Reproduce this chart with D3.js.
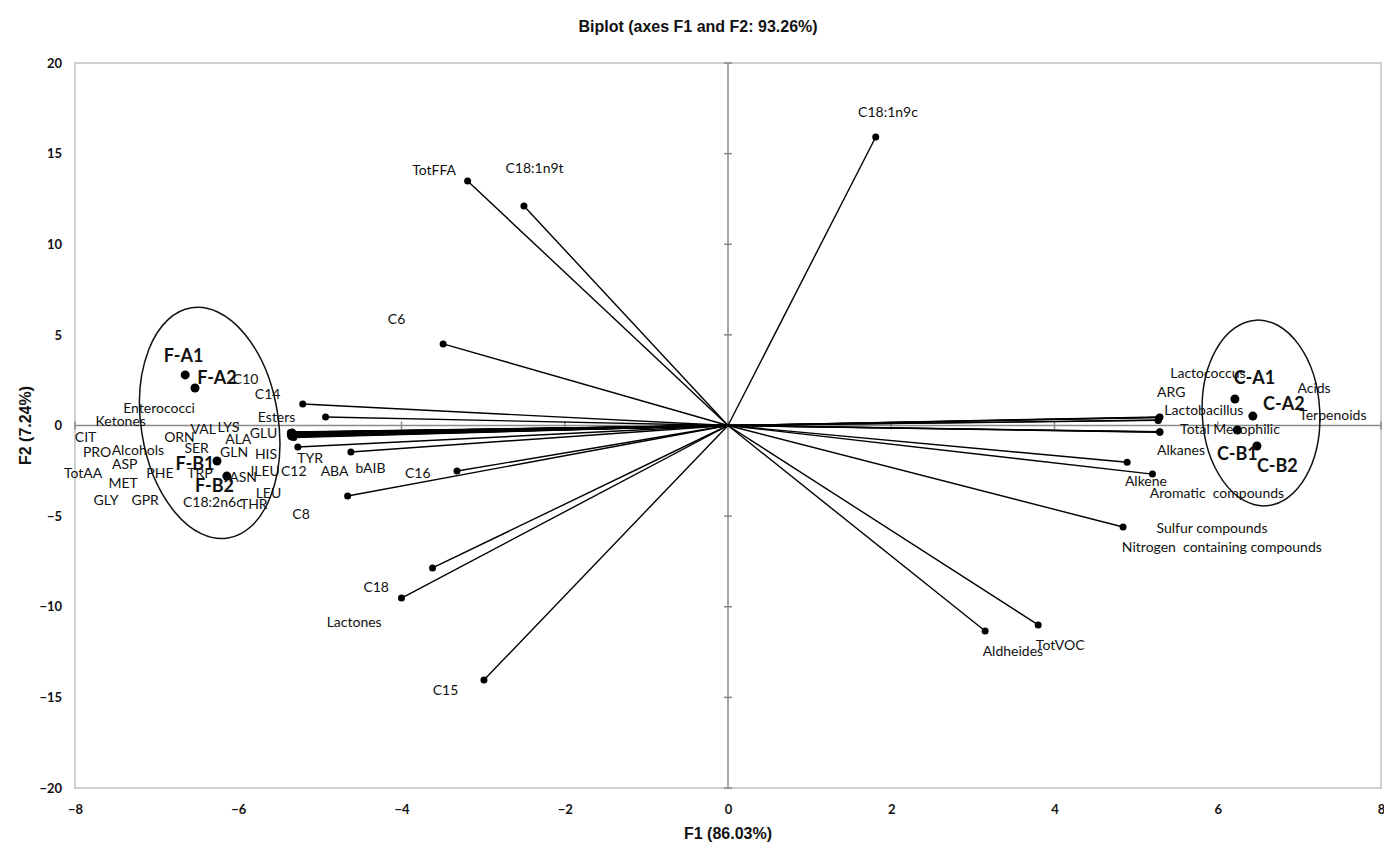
<!DOCTYPE html>
<html>
<head>
<meta charset="utf-8">
<script src="https://cdn.jsdelivr.net/npm/d3@7"></script>
<style>
  body { margin: 0; background: #fff; }
  svg text { white-space: pre; }
</style>
</head>
<body>
<div id="chart"></div>
<script>
// axis ticks
const f1Ticks = [-8, -6, -4, -2, 0, 2, 4, 6, 8];
const f2Ticks = [-20, -15, -10, -5, 0, 5, 10, 15, 20];

// variables: vector end points (F1, F2) and where their labels sit (F1, F2)
const variables = ["C18:1n9c", "TotFFA", "C18:1n9t", "C6", "C14", "Esters", "TYR", "bAIB", "C16", "C8",
  "C18", "Lactones", "C15", "Aldheides", "TotVOC", "Alkanes", "Alkene", "Sulfur compounds",
  "Lactococcus", "ARG", "Acids", "Lactobacillus", "Terpenoids", "Total Mesophilic",
  "Aromatic  compounds", "Nitrogen  containing compounds",
  "CIT", "Ketones", "C10", "Alcohols", "PRO", "TotAA", "Enterococci", "ASP", "GLU", "ORN",
  "MET", "VAL", "ILEU", "GLY", "LYS", "GPR", "ALA", "C18:2n6c", "PHE", "SER", "ASN",
  "GLN", "ABA", "TRP", "LEU", "HIS", "THR", "C12"];
const varF1 = [1.81, -3.19, -2.50, -3.49, -5.21, -4.93, -5.27, -4.62, -3.32, -4.66,
  -3.62, -4.00, -2.99, 3.15, 3.80, 4.89, 5.20, 4.84,
  5.29, 5.29, 5.28, 5.27, 5.27, 5.29,
  5.29, 5.29,
  -5.34, -5.34, -5.35, -5.36, -5.35, -5.35, -5.33, -5.36, -5.33, -5.35,
  -5.35, -5.36, -5.34, -5.36, -5.35, -5.35, -5.34, -5.35, -5.34, -5.36, -5.35,
  -5.35, -5.33, -5.34, -5.33, -5.35, -5.34, -5.32];
const varF2 = [15.92, 13.49, 12.11, 4.50, 1.19, 0.47, -1.19, -1.46, -2.51, -3.89,
  -7.86, -9.52, -14.04, -11.34, -11.00, -2.03, -2.68, -5.60,
  0.47, 0.45, 0.44, 0.30, 0.28, -0.36,
  -0.34, -0.37,
  -0.36, -0.37, -0.38, -0.39, -0.40, -0.41, -0.42, -0.43, -0.44, -0.45,
  -0.46, -0.47, -0.48, -0.49, -0.50, -0.51, -0.52, -0.53, -0.54, -0.55, -0.56,
  -0.57, -0.58, -0.59, -0.60, -0.62, -0.64, -0.66];
const varLabelF1 = [1.96, -3.60, -2.37, -4.06, -5.64, -5.53, -5.12, -4.38, -3.80, -5.23,
  -4.31, -4.58, -3.46, 3.49, 4.07, 5.55, 5.12, 5.93,
  5.88, 5.43, 7.18, 5.83, 7.41, 6.15,
  5.99, 6.05,
  -7.87, -7.44, -5.91, -7.23, -7.73, -7.90, -6.97, -7.39, -5.69, -6.72,
  -7.41, -6.43, -5.67, -7.62, -6.12, -7.14, -6.00, -6.31, -6.96, -6.51, -5.94,
  -6.05, -4.82, -6.47, -5.63, -5.66, -5.81, -5.32];
const varLabelF2 = [17.30, 14.13, 14.26, 5.93, 1.79, 0.47, -1.79, -2.34, -2.62, -4.83,
  -8.86, -10.84, -14.54, -12.39, -12.06, -1.35, -3.06, -5.65,
  2.90, 1.85, 2.07, 0.91, 0.63, -0.14,
  -3.67, -6.65,
  -0.58, 0.25, 2.62, -1.35, -1.41, -2.57, 0.97, -2.12, -0.41, -0.63,
  -3.17, -0.14, -2.46, -4.11, -0.08, -4.06, -0.74, -4.17, -2.57, -1.19, -2.84,
  -1.41, -2.51, -2.57, -3.72, -1.52, -4.28, -2.51];

// observations
const observations = ["F-A1", "F-A2", "F-B1", "F-B2", "C-A1", "C-A2", "C-B1", "C-B2"];
const obsF1 = [-6.65, -6.53, -6.26, -6.14, 6.21, 6.43, 6.24, 6.48];
const obsF2 = [2.79, 2.07, -1.96, -2.79, 1.46, 0.52, -0.25, -1.13];
const obsLabelF1 = [-6.67, -6.26, -6.53, -6.29, 6.45, 6.81, 6.24, 6.73];
const obsLabelF2 = [3.89, 2.68, -2.07, -3.28, 2.68, 1.24, -1.52, -2.18];

// group ellipses: centre (F1, F2), half widths (F1, F2), tilt in degrees
const groupCentreF1 = [-6.35, 6.53];
const groupCentreF2 = [0.14, 0.69];
const groupHalfF1 = [0.84, 0.72];
const groupHalfF2 = [6.43, 5.13];
const groupTilt = [-9, -3];

const width = 1384, height = 846;
const svg = d3.select("#chart").append("svg")
  .attr("width", width)
  .attr("height", height);

const x = d3.scaleLinear().domain([-8, 8]).range([75, 1381]);
const y = d3.scaleLinear().domain([-20, 20]).range([788, 63]);

// frame
svg.append("rect")
  .attr("x", x(-8)).attr("y", y(20))
  .attr("width", x(8) - x(-8)).attr("height", y(-20) - y(20))
  .attr("fill", "none").attr("stroke", "#c0c0c0").attr("stroke-width", 1.5);

// tick labels on the frame
const yAxis = svg.append("g")
  .attr("transform", "translate(" + x(-8) + ",0)")
  .call(d3.axisLeft(y).tickValues(f2Ticks).tickSize(0).tickPadding(13));
const xAxis = svg.append("g")
  .attr("transform", "translate(0," + y(-20) + ")")
  .call(d3.axisBottom(x).tickValues(f1Ticks).tickSize(0).tickPadding(17));
[xAxis, yAxis].forEach(function(a) {
  a.select(".domain").remove();
  a.selectAll("text")
    .attr("font-family", "Lato, 'Open Sans', sans-serif")
    .attr("font-weight", "bold")
    .attr("font-size", "13px")
    .attr("fill", "#111");
});

// zero axes with crossing ticks
const zero = svg.append("g").attr("stroke", "#8a8a8a").attr("stroke-width", 1.5);
zero.append("line")
  .attr("x1", x(0)).attr("x2", x(0)).attr("y1", y(20)).attr("y2", y(-20));
zero.append("line")
  .attr("x1", x(-8)).attr("x2", x(8)).attr("y1", y(0)).attr("y2", y(0));
zero.selectAll(".ty").data(f2Ticks).enter().append("line")
  .attr("x1", x(0) - 4).attr("x2", x(0) + 4)
  .attr("y1", function(d) { return y(d); }).attr("y2", function(d) { return y(d); });
zero.selectAll(".tx").data(f1Ticks).enter().append("line")
  .attr("y1", y(0) - 4).attr("y2", y(0) + 4)
  .attr("x1", function(d) { return x(d); }).attr("x2", function(d) { return x(d); });

// ellipses
svg.selectAll(".grp").data(groupCentreF1).enter().append("ellipse")
  .attr("cx", 0).attr("cy", 0)
  .attr("rx", function(d, i) { return x(groupHalfF1[i]) - x(0); })
  .attr("ry", function(d, i) { return y(0) - y(groupHalfF2[i]); })
  .attr("transform", function(d, i) {
    return "translate(" + x(d) + "," + y(groupCentreF2[i]) + ") rotate(" + groupTilt[i] + ")";
  })
  .attr("fill", "none").attr("stroke", "#111").attr("stroke-width", 1.5);

// vectors
const vecs = svg.append("g");
vecs.selectAll("line").data(variables).enter().append("line")
  .attr("x1", x(0)).attr("y1", y(0))
  .attr("x2", function(d, i) { return x(varF1[i]); })
  .attr("y2", function(d, i) { return y(varF2[i]); })
  .attr("stroke", "#000").attr("stroke-width", 1.4);
vecs.selectAll("circle").data(variables).enter().append("circle")
  .attr("cx", function(d, i) { return x(varF1[i]); })
  .attr("cy", function(d, i) { return y(varF2[i]); })
  .attr("r", 3.5).attr("fill", "#000");

// observation points
svg.selectAll(".obs").data(observations).enter().append("circle")
  .attr("cx", function(d, i) { return x(obsF1[i]); })
  .attr("cy", function(d, i) { return y(obsF2[i]); })
  .attr("r", 4.5).attr("fill", "#000");

// labels
svg.selectAll(".vlab").data(variables).enter().append("text")
  .attr("x", function(d, i) { return x(varLabelF1[i]); })
  .attr("y", function(d, i) { return y(varLabelF2[i]); })
  .attr("text-anchor", "middle").attr("dominant-baseline", "central")
  .attr("font-family", "Lato, 'Open Sans', sans-serif")
  .attr("font-size", "14px").attr("fill", "#111")
  .text(function(d) { return d; });

svg.selectAll(".olab").data(observations).enter().append("text")
  .attr("x", function(d, i) { return x(obsLabelF1[i]); })
  .attr("y", function(d, i) { return y(obsLabelF2[i]); })
  .attr("text-anchor", "middle").attr("dominant-baseline", "central")
  .attr("font-family", "Lato, 'Open Sans', sans-serif")
  .attr("font-weight", "bold")
  .attr("font-size", "18px").attr("fill", "#111")
  .text(function(d) { return d; });

// titles
svg.append("text")
  .attr("x", 698).attr("y", 26)
  .attr("text-anchor", "middle").attr("dominant-baseline", "central")
  .attr("font-family", "'Liberation Sans', Arial, sans-serif")
  .attr("font-weight", "bold").attr("font-size", "16px").attr("fill", "#111")
  .text("Biplot (axes F1 and F2: 93.26%)");
svg.append("text")
  .attr("x", x(0)).attr("y", 833)
  .attr("text-anchor", "middle").attr("dominant-baseline", "central")
  .attr("font-family", "'Liberation Sans', Arial, sans-serif")
  .attr("font-weight", "bold").attr("font-size", "16px").attr("fill", "#111")
  .text("F1 (86.03%)");
svg.append("text")
  .attr("transform", "translate(25," + y(0) + ") rotate(-90)")
  .attr("text-anchor", "middle").attr("dominant-baseline", "central")
  .attr("font-family", "'Liberation Sans', Arial, sans-serif")
  .attr("font-weight", "bold").attr("font-size", "16px").attr("fill", "#111")
  .text("F2 (7.24%)");
</script>
</body>
</html>
